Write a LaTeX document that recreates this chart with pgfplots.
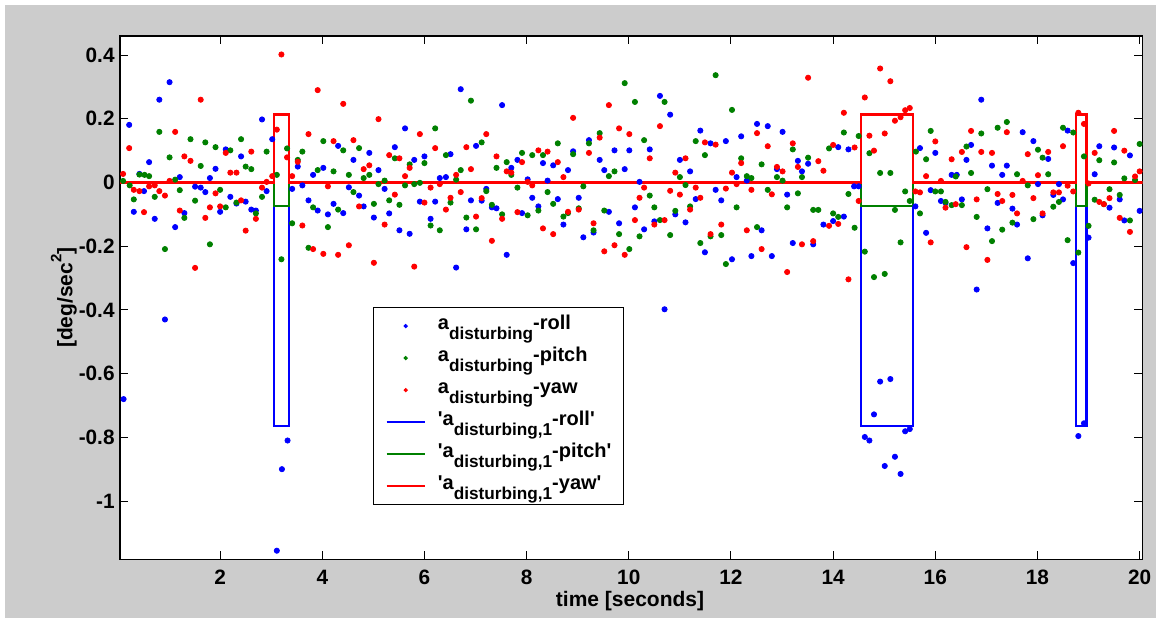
\documentclass[border=0pt]{standalone}
\usepackage{fontspec}
\setmainfont{Liberation Sans}
\usepackage{pgfplots}
\pgfplotsset{compat=1.18}
\definecolor{mgreen}{RGB}{0,128,0}
\definecolor{bggray}{RGB}{204,204,204}
\newcommand{\sub}[1]{\raisebox{-5pt}{\fontsize{8.6}{9}\selectfont #1}}
\newcommand{\q}{\textquotesingle}
\pgfplotsset{
  dotleg/.style={legend image code/.code={\draw[##1, mark size=0.8pt] plot coordinates {(9.5pt,0pt)};}},
  lineleg/.style={legend image code/.code={\draw[##1] (0pt,0pt) -- (19pt,0pt);}},
}
\begin{document}
\begin{tikzpicture}
\path[use as bounding box, fill=white] (-60pt,-29.35pt) rectangle (518pt,279.65pt);
\fill[bggray] (-57.5pt,-29.35pt) rectangle (518pt,277.15pt);
\begin{axis}[
  at={(0pt,0pt)}, anchor=south west, scale only axis,
  width=511.35pt, height=261.65pt,
  xmin=0.04, xmax=20.06, ymin=-1.183, ymax=0.46,
  axis background/.style={fill=white},
  xtick={2,4,...,20}, xticklabels={2,4,6,8,10,12,14,16,18,20},
  ytick={-1,-0.8,-0.6,-0.4,-0.2,0,0.2,0.4},
  yticklabels={-1,-0.8,-0.6,-0.4,-0.2,0,0.2,0.4},
  tick align=inside, major tick length=4.2pt,
  every tick/.style={black, line width=0.5pt},
  axis line style={line width=0.6pt},
  tick label style={font=\fontsize{10.4}{12}\selectfont\bfseries},
  xticklabel style={inner sep=0pt, anchor=north, yshift=-5.3pt},
  yticklabel style={inner sep=0pt, anchor=east, xshift=-2.5pt},
  xlabel={time [seconds]},
  ylabel={[deg/sec\raisebox{5.5pt}{\fontsize{7.5}{8}\selectfont 2}]},
  every axis x label/.style={at={(axis description cs:0.4987,-0.08)}, anchor=center,
    font=\fontsize{10.5}{12}\selectfont\bfseries},
  every axis y label/.style={at={(axis description cs:-0.0548,0.5)}, anchor=center, rotate=90,
    font=\fontsize{10.5}{12}\selectfont\bfseries},
  legend cell align=left,
  legend style={at={(axis description cs:0.2474,0.482)}, anchor=north west,
    draw=black, line width=0.5pt, fill=white, inner xsep=6pt, inner ysep=1.25pt,
    row sep=0pt, column sep=6pt,
    nodes={inner sep=0pt, text height=9.5pt, text depth=6.5pt,
      font=\fontsize{10}{12}\selectfont\bfseries}},
]
\addplot[only marks, mark=*, mark size=1.3pt, color=blue, mark options={draw=none, fill=blue}, dotleg] table {
x y
0.11 -0.68
0.22 0.181
0.31 -0.092
0.42 0.027
0.51 -0.027
0.61 0.064
0.72 -0.114
0.81 0.260
0.92 -0.430
1.01 0.315
1.12 -0.140
1.21 0.017
1.30 -0.096
1.51 -0.013
1.62 -0.016
1.71 -0.030
1.80 0.014
1.91 0.043
2.00 -0.092
2.11 0.104
2.20 -0.045
2.32 -0.066
2.41 0.082
2.50 -0.060
2.61 -0.085
2.70 -0.088
2.82 0.198
2.91 -0.027
3.02 0.136
3.11 -1.156
3.21 -0.900
3.32 -0.810
3.41 -0.020
3.52 0.050
3.61 -0.009
3.73 -0.056
3.82 0.024
3.91 -0.088
4.02 0.046
4.11 -0.100
4.22 -0.067
4.31 0.115
4.41 -0.096
4.52 -0.015
4.61 0.071
4.72 -0.041
4.81 -0.075
4.92 0.093
5.01 -0.110
5.10 0.039
5.22 -0.020
5.31 -0.097
5.42 0.111
5.51 -0.150
5.62 0.170
5.71 -0.161
5.80 0.071
5.91 -0.060
6.00 0.082
6.12 -0.114
6.21 -0.060
6.30 0.014
6.42 0.017
6.51 0.089
6.62 -0.267
6.71 0.293
6.82 -0.147
6.91 -0.056
7.01 0.115
7.12 -0.057
7.21 -0.020
7.32 -0.078
7.41 -0.081
7.52 0.243
7.61 -0.227
7.70 0.046
7.82 0.071
7.91 -0.096
8.02 0.010
8.11 -0.048
8.23 -0.075
8.32 0.061
8.41 0.006
8.52 0.054
8.61 -0.052
8.72 -0.132
8.81 0.039
8.91 0.098
9.02 -0.048
9.11 -0.172
9.22 0.133
9.31 -0.157
9.43 0.071
9.52 0.039
9.61 -0.092
9.72 0.101
9.81 -0.128
9.92 0.042
10.01 0.101
10.12 -0.078
10.21 0.002
10.30 -0.147
10.41 0.104
10.50 -0.122
10.61 0.272
10.70 -0.398
10.81 0.213
10.91 -0.100
11.00 0.071
11.11 -0.125
11.20 0.035
11.31 -0.052
11.40 0.163
11.49 -0.219
11.60 0.123
11.70 -0.023
11.81 -0.056
11.90 0.130
12.02 -0.241
12.11 0.017
12.20 0.145
12.31 0.006
12.40 -0.231
12.51 0.184
12.60 -0.150
12.72 0.177
12.80 -0.231
12.90 0.042
13.01 0.159
13.10 -0.038
13.21 -0.190
13.31 0.068
13.39 0.035
13.51 0.059
13.61 -0.194
13.81 -0.132
14.00 -0.121
14.10 0.111
14.21 -0.107
14.30 0.104
14.41 -0.012
14.50 -0.012
14.62 -0.799
14.71 -0.810
14.80 -0.728
14.92 -0.625
15.01 -0.890
15.12 -0.617
15.21 -0.861
15.32 -0.915
15.41 -0.781
15.50 -0.774
15.61 -0.075
15.70 0.108
15.82 -0.158
15.91 -0.024
16.00 0.093
16.11 -0.058
16.20 -0.064
16.32 0.024
16.42 0.024
16.52 -0.053
16.61 0.071
16.70 0.118
16.81 -0.336
16.90 0.260
17.02 -0.144
17.11 0.053
17.22 -0.064
17.31 0.024
17.40 0.053
17.51 -0.082
17.60 -0.132
17.71 0.158
17.81 -0.238
17.92 0.130
18.01 -0.005
18.10 -0.103
18.21 0.074
18.31 -0.039
18.42 -0.005
18.50 -0.053
18.59 0.163
18.70 -0.253
18.80 -0.796
18.91 -0.756
19.00 -0.173
19.12 0.026
19.21 0.114
19.41 -0.079
19.50 0.110
19.61 -0.053
19.70 -0.119
19.81 0.085
20.00 -0.089
};
\addlegendentry{a\sub{disturbing}-roll}
\addplot[only marks, mark=*, mark size=1.3pt, color=mgreen, mark options={draw=none, fill=mgreen}, dotleg] table {
x y
0.10 0.005
0.23 -0.009
0.31 -0.053
0.42 0.025
0.52 0.024
0.61 0.020
0.72 -0.045
0.81 0.159
0.92 -0.209
1.01 0.079
1.12 0.009
1.21 -0.024
1.30 -0.111
1.42 0.136
1.51 -0.057
1.62 0.052
1.71 0.126
1.80 -0.194
1.91 0.111
2.00 -0.023
2.11 -0.078
2.20 0.101
2.32 -0.063
2.41 0.136
2.50 0.050
2.61 0.042
2.70 -0.097
2.82 -0.045
2.91 0.097
3.11 0.024
3.20 -0.241
3.31 0.107
3.41 -0.128
3.52 0.071
3.61 0.097
3.73 -0.205
3.82 -0.078
3.91 0.039
4.02 0.130
4.11 -0.140
4.22 0.035
4.31 -0.085
4.41 0.101
4.52 0.024
4.61 -0.030
4.72 0.108
4.81 0.014
4.92 0.024
5.01 -0.067
5.10 -0.005
5.22 0.006
5.31 -0.056
5.42 0.076
5.51 -0.070
5.62 -0.009
5.71 0.057
5.80 -0.005
5.91 -0.001
6.00 0.061
6.12 -0.135
6.21 0.170
6.30 -0.150
6.42 0.086
6.51 -0.063
6.62 0.009
6.71 0.039
6.82 -0.110
6.91 0.257
7.01 -0.147
7.12 0.126
7.21 -0.027
7.32 -0.070
7.41 0.046
7.52 -0.100
7.61 0.064
7.70 0.024
7.82 -0.016
7.91 0.093
8.02 -0.103
8.11 0.086
8.23 -0.088
8.32 0.086
8.41 -0.030
8.52 -0.067
8.61 0.123
8.72 -0.107
8.81 -0.096
8.91 0.089
9.02 -0.081
9.11 -0.012
9.22 0.123
9.31 -0.150
9.43 0.155
9.52 -0.088
9.61 0.020
9.72 0.035
9.81 -0.162
9.92 0.312
10.01 -0.209
10.12 0.253
10.21 -0.169
10.30 0.133
10.41 -0.041
10.50 -0.078
10.61 -0.118
10.70 0.253
10.81 -0.165
10.91 -0.089
11.00 0.017
11.11 -0.008
11.20 -0.075
11.31 0.130
11.40 -0.190
11.49 0.086
11.60 -0.169
11.70 0.337
11.81 -0.165
11.90 -0.256
12.02 0.228
12.11 -0.078
12.20 0.076
12.31 0.020
12.40 0.014
12.51 -0.140
12.60 0.057
12.72 -0.023
12.90 0.017
13.01 0.006
13.10 -0.078
13.21 0.104
13.31 -0.034
13.39 0.017
13.51 0.078
13.61 -0.086
13.71 -0.086
13.92 0.107
14.00 -0.097
14.10 -0.108
14.21 0.157
14.30 -0.036
14.42 -0.142
14.50 0.146
14.62 -0.217
14.71 0.092
14.80 -0.297
14.92 0.030
15.01 -0.287
15.12 0.030
15.21 -0.086
15.32 -0.188
15.41 -0.028
15.50 -0.058
15.62 0.097
15.70 -0.097
15.82 0.073
15.91 0.162
16.00 -0.028
16.11 -0.028
16.20 -0.061
16.32 -0.071
16.40 0.019
16.52 -0.071
16.61 0.113
16.70 0.030
16.81 -0.108
16.90 0.154
17.02 -0.021
17.11 -0.184
17.22 0.172
17.31 -0.148
17.40 0.190
17.51 -0.126
17.60 0.026
17.81 -0.009
17.92 -0.115
18.01 0.103
18.10 0.078
18.21 0.026
18.31 -0.076
18.42 -0.061
18.50 0.172
18.59 -0.181
18.70 0.157
18.80 -0.220
18.91 0.082
19.00 -0.136
19.12 -0.054
19.21 0.070
19.30 -0.068
19.41 -0.021
19.50 0.063
19.61 -0.039
19.70 0.013
19.81 -0.119
19.91 0.008
20.00 0.121
};
\addlegendentry{a\sub{disturbing}-pitch}
\addplot[only marks, mark=*, mark size=1.3pt, color=red, mark options={draw=none, fill=red}, dotleg] table {
x y
0.10 0.027
0.22 0.108
0.31 -0.023
0.42 -0.027
0.51 -0.093
0.61 -0.012
0.72 -0.009
0.81 -0.027
0.92 -0.041
1.01 0.005
1.12 0.159
1.21 -0.088
1.30 0.082
1.42 0.068
1.51 -0.268
1.62 0.260
1.71 -0.111
1.80 -0.078
1.91 -0.034
2.00 -0.075
2.11 0.093
2.20 0.031
2.32 0.031
2.41 -0.056
2.50 -0.151
2.61 0.097
2.70 -0.114
2.82 -0.016
2.91 0.002
3.02 0.020
3.11 0.166
3.20 0.402
3.31 0.079
3.41 0.020
3.52 0.065
3.61 -0.135
3.73 0.152
3.82 -0.209
3.91 0.290
4.02 -0.224
4.11 -0.012
4.22 0.130
4.31 -0.227
4.41 0.247
4.52 -0.197
4.61 0.133
4.72 -0.075
4.81 0.042
4.92 0.054
5.01 -0.252
5.10 0.199
5.22 -0.132
5.31 0.086
5.42 -0.038
5.51 0.076
5.62 0.020
5.71 0.046
5.80 -0.264
5.91 0.152
6.00 -0.063
6.12 -0.016
6.21 0.108
6.30 -0.005
6.42 -0.085
6.51 -0.048
6.62 0.024
6.71 -0.030
6.82 0.111
6.91 0.042
7.01 -0.107
7.12 -0.049
7.21 0.152
7.32 -0.183
7.41 0.082
7.52 -0.114
7.61 0.035
7.70 0.031
7.82 -0.093
7.91 0.064
8.02 0.002
8.11 -0.009
8.23 0.101
8.32 -0.144
8.41 0.097
8.52 -0.162
8.61 0.064
8.72 0.017
8.81 -0.092
8.91 0.203
9.02 -0.085
9.22 0.093
9.31 -0.128
9.43 0.141
9.52 -0.216
9.61 0.243
9.72 -0.197
9.81 0.170
9.92 -0.227
10.01 0.152
10.12 -0.118
10.21 -0.048
10.30 -0.016
10.41 0.076
10.50 -0.132
10.61 0.177
10.70 -0.118
10.81 -0.026
10.91 0.031
11.00 -0.038
11.11 0.076
11.20 -0.085
11.31 -0.016
11.40 -0.048
11.49 0.126
11.60 -0.162
11.70 0.119
11.81 -0.132
11.90 -0.019
12.02 0.031
12.11 -0.005
12.20 0.061
12.31 -0.150
12.40 -0.023
12.51 0.155
12.60 -0.209
12.72 0.114
12.80 -0.037
12.90 0.049
13.01 0.035
13.10 -0.281
13.21 0.123
13.31 0.049
13.39 -0.194
13.51 0.329
13.61 -0.184
13.71 0.067
13.81 0.037
13.92 -0.136
14.00 0.118
14.10 -0.130
14.21 0.219
14.30 -0.304
14.42 0.110
14.50 -0.058
14.62 0.267
14.71 0.147
14.80 0.100
14.92 0.358
15.01 0.154
15.12 0.318
15.21 0.194
15.32 0.205
15.41 0.227
15.50 0.234
15.61 -0.028
15.70 -0.031
15.82 0.020
15.91 -0.188
16.00 0.129
16.11 0.005
16.20 -0.079
16.32 0.073
16.40 -0.068
16.52 0.096
16.61 -0.203
16.70 0.162
16.81 -0.053
16.90 0.096
17.02 -0.243
17.11 0.093
17.22 -0.036
17.31 -0.058
17.40 0.158
17.51 -0.039
17.60 -0.097
17.71 0.005
17.81 0.089
17.92 -0.049
18.01 0.023
18.10 -0.097
18.21 0.096
18.31 -0.031
18.42 -0.031
18.50 0.114
18.59 -0.010
18.70 -0.028
18.80 0.219
18.91 0.184
19.00 -0.003
19.12 0.093
19.21 -0.061
19.30 -0.068
19.41 -0.049
19.50 0.162
19.61 -0.111
19.70 0.100
19.81 -0.155
19.91 0.019
20.00 0.035
};
\addlegendentry{a\sub{disturbing}-yaw}
\addplot[blue, line width=1.2pt, sharp plot, lineleg] coordinates {
(0,0) (3.06,0) (3.06,-0.765) (3.35,-0.765) (3.35,0) (14.55,0) (14.55,-0.765) (15.56,-0.765) (15.56,0) (18.75,0) (18.75,-0.765) (18.96,-0.765) (18.96,0) (20.2,0)};
\addlegendentry{\q a\sub{disturbing,1}-roll\q}
\addplot[mgreen, line width=1.2pt, sharp plot, lineleg] coordinates {
(0,0) (3.06,0) (3.06,-0.073) (3.35,-0.073) (3.35,0) (14.55,0) (14.55,-0.073) (15.56,-0.073) (15.56,0) (18.75,0) (18.75,-0.073) (18.96,-0.073) (18.96,0) (20.2,0)};
\addlegendentry{\q a\sub{disturbing,1}-pitch\q}
\addplot[red, line width=1.2pt, sharp plot, lineleg] coordinates {
(0,0) (3.06,0) (3.06,0.213) (3.35,0.213) (3.35,0) (14.55,0) (14.55,0.213) (15.56,0.213) (15.56,0) (18.75,0) (18.75,0.213) (18.96,0.213) (18.96,0) (20.2,0)};
\addlegendentry{\q a\sub{disturbing,1}-yaw\q}
\end{axis}
\end{tikzpicture}
\end{document}
